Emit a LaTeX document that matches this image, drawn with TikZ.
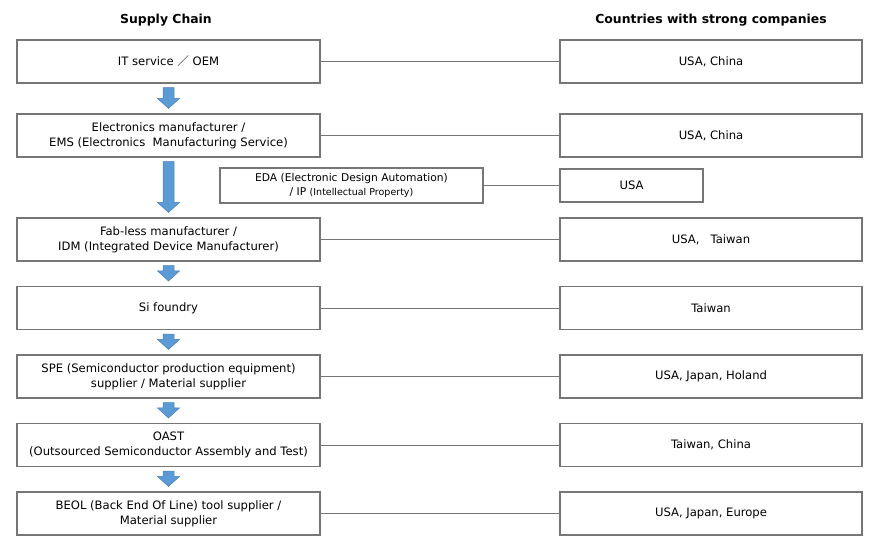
\documentclass[tikz,border=0pt]{standalone}
\usepackage{fontspec}
\setmainfont{DejaVu Sans}
\newfontfamily\cjk{Noto Sans CJK JP}
\usetikzlibrary{calc}
\definecolor{boxline}{HTML}{767676}
\definecolor{arrfill}{HTML}{5B9BD5}
\definecolor{arrline}{HTML}{4A7EB5}
\tikzset{
  box/.style={draw=boxline, line width=1.1pt, fill=white, inner sep=0pt, align=center,
    font=\fontsize{11.6}{15}\selectfont},
  lbox/.style={box, minimum width=303pt, minimum height=43pt},
  rbox/.style={box, minimum width=302pt, minimum height=43pt},
  link/.style={draw=boxline, line width=0.9pt},
  blk/.style={fill=arrfill, draw=arrline, line width=0.5pt},
  head/.style={font=\fontsize{12.4}{14}\selectfont\bfseries}
}
\newcommand\blockarr[2]{%
  \draw[blk] let \p1=(#1.south), \p2=(#2.north) in
    (\x1-5.5pt,\y1-4pt) -- (\x1+5.5pt,\y1-4pt) -- (\x1+5.5pt,\y2+15pt) --
    (\x1+11pt,\y2+15pt) -- (\x1,\y2+5pt) -- (\x1-11pt,\y2+15pt) --
    (\x1-5.5pt,\y2+15pt) -- cycle;}
\begin{document}
\begin{tikzpicture}[x=1pt,y=-1pt]
\useasboundingbox (0,0) rectangle (882,554);
\node[head] (h1) at (166,20) {Supply Chain};
\node[head] (h2) at (711,20) {Countries with strong companies};

\node[lbox] (l1) at (168.5,61.5) {IT service {\cjk ／} OEM};
\node[lbox] (l2) at (168.5,135.5) {Electronics manufacturer /\\EMS (Electronics\ \ Manufacturing Service)};
\node[box, minimum width=263pt, minimum height=35pt, font=\fontsize{10.7}{13.5}\selectfont] (eda) at (351.5,185.5)
  {EDA (Electronic Design Automation)\\/ IP {\fontsize{9.5}{13}\selectfont(Intellectual Property)}};
\node[lbox] (l3) at (168.5,239.5) {Fab-less manufacturer /\\IDM (Integrated Device Manufacturer)};
\node[lbox] (l4) at (168.5,308) {Si foundry};
\node[lbox] (l5) at (168.5,376.5) {SPE (Semiconductor production equipment)\\supplier / Material supplier};
\node[lbox] (l6) at (168.5,445) {OAST\\(Outsourced Semiconductor Assembly and Test)};
\node[lbox] (l7) at (168.5,513.5) {BEOL (Back End Of Line) tool supplier /\\Material supplier};

\node[rbox] (r1) at (711,61.5) {USA, China};
\node[rbox] (r2) at (711,135.5) {USA, China};
\node[box, minimum width=143pt, minimum height=33pt] (redA) at (631.5,185.5) {USA};
\node[rbox] (r3) at (711,239.5) {USA,\ \ \ Taiwan};
\node[rbox] (r4) at (711,308) {Taiwan};
\node[rbox] (r5) at (711,376.5) {USA, Japan, Holand};
\node[rbox] (r6) at (711,445) {Taiwan, China};
\node[rbox] (r7) at (711,513.5) {USA, Japan, Europe};

\foreach \i in {1,...,7} {\draw[link] (l\i.east) -- (r\i.west);}
\draw[link] (eda.east) -- (redA.west);

\blockarr{l1}{l2}
\blockarr{l2}{l3}
\blockarr{l3}{l4}
\blockarr{l4}{l5}
\blockarr{l5}{l6}
\blockarr{l6}{l7}
\end{tikzpicture}
\end{document}
